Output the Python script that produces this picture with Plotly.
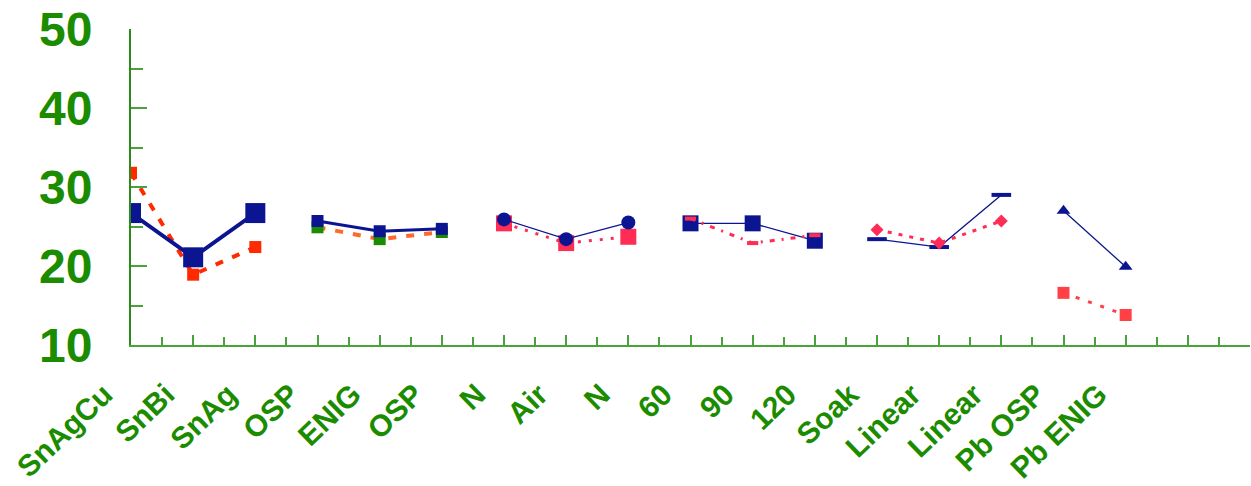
import plotly.graph_objects as go

categories = ["SnAgCu", "SnBi", "SnAg", "OSP", "ENIG", "OSP", "N", "Air", "N",
              "60", "90", "120", "Soak", "Linear", "Linear", "Pb OSP", "Pb ENIG"]

# group x positions (indices into categories)
g1_x = [0, 1, 2]
g2_x = [3, 4, 5]
g3_x = [6, 7, 8]
g4_x = [9, 10, 11]
g5_x = [12, 13, 14]
g6_x = [15, 16]

g1_blue = [26.7, 21.1, 26.7]
g1_red = [31.8, 18.9, 22.4]
g2_blue = [25.7, 24.4, 24.7]
g2_green = [24.9, 23.4, 24.3]
g3_blue = [25.9, 23.4, 25.5]
g3_red = [25.4, 22.9, 23.7]
g4_blue = [25.4, 25.4, 23.2]
g4_red = [26.0, 22.9, 23.9]
g5_blue = [23.4, 22.4, 29.0]
g5_red = [24.6, 22.9, 25.7]
g6_blue = [27.0, 19.9]
g6_red = [16.6, 13.8]

y_ticks = [10, 20, 30, 40, 50]

BLUE = "#0c1591"
GREEN_TXT = "#1b8c00"
AXIS = "#4aa23a"
FONT = "Liberation Sans, Arial, sans-serif"

fig = go.Figure()

def add(x, y, color, width, dash, symbol, size, mline=0, mcolor=None):
    fig.add_trace(go.Scatter(
        x=x, y=y, mode="lines+markers",
        line=dict(color=color, width=width, dash=dash),
        marker=dict(symbol=symbol, size=size, color=mcolor or color,
                    line=dict(width=mline, color=mcolor or color)),
        showlegend=False, hoverinfo="skip"))

# group 1
add(g1_x, g1_red, "#ff2a00", 4, "8px,10px", "square", 12)
add(g1_x, g1_blue, BLUE, 4, "solid", "square", 20)
# group 2
add(g2_x, g2_green, "#ff6a2a", 4, "8px,10px", "square", 12, mcolor="#1b8c00")
add(g2_x, g2_blue, BLUE, 3, "solid", "square", 12)
# group 3
add(g3_x, g3_red, "#ff2d55", 3, "3px,8px", "square", 16)
add(g3_x, g3_blue, BLUE, 1.3, "solid", "circle", 14)
# group 4
add(g4_x, g4_blue, BLUE, 1.3, "solid", "square", 16)
add(g4_x, g4_red, "#ff2d55", 3, "5px,7px,2px,7px", "line-ew", 8, mline=4)
# group 5
add(g5_x, g5_blue, BLUE, 1.3, "solid", "line-ew", 14, mline=4)
add(g5_x, g5_red, "#ff2d55", 3, "4px,7px", "diamond", 10)
# group 6
add(g6_x, g6_blue, BLUE, 1.3, "solid", "triangle-up", 12)
add(g6_x, g6_red, "#ff4046", 3, "4px,9px", "square", 12)

n_ticks = 19
tickvals = list(range(n_ticks))
ticktext = categories + [""] * (n_ticks - len(categories))

fig.update_layout(
    width=1251, height=486,
    margin=dict(l=131, r=1, t=29, b=141),
    paper_bgcolor="white", plot_bgcolor="white",
    font=dict(family=FONT, color=GREEN_TXT),
    xaxis=dict(
        range=[0, 18], tickmode="array", tickvals=tickvals, ticktext=ticktext,
        tickangle=-44, automargin=False,
        tickfont=dict(size=30, color=GREEN_TXT, family=FONT, weight="bold"),
        showgrid=False, zeroline=False,
        showline=True, linecolor=AXIS, linewidth=2,
        ticks="inside", ticklen=10, tickcolor=AXIS, tickwidth=1.5,
        minor=dict(ticks="inside", ticklen=8, tickcolor=AXIS, dtick=0.5, tickwidth=1.5),
        ticklabelshift=-27, ticklabelstandoff=18,
    ),
    yaxis=dict(
        range=[10, 50], tickmode="array", tickvals=y_ticks, automargin=False,
        tickfont=dict(size=48, color=GREEN_TXT, family=FONT, weight="bold"),
        showgrid=False, zeroline=False,
        showline=True, linecolor="#2a8a1a", linewidth=2,
        ticks="inside", ticklen=16, tickcolor=AXIS, tickwidth=2,
        minor=dict(ticks="inside", ticklen=12, tickcolor=AXIS, dtick=5, tickwidth=2),
        ticklabelstandoff=27,
    ),
)

fig.write_html("out.html")
